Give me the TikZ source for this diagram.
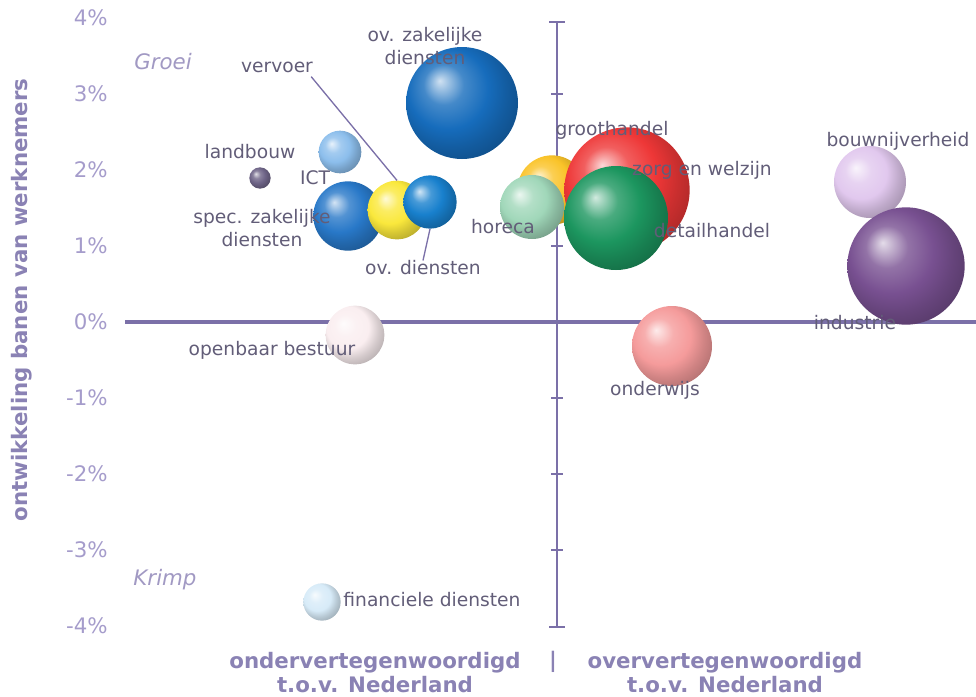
\documentclass[tikz,border=0pt]{standalone}
\usepackage{fontspec}
\setmainfont{DejaVu Sans}
\usetikzlibrary{shadings}

\definecolor{axispurple}{HTML}{7B70A8}
\definecolor{ticklav}{HTML}{A59CCB}
\definecolor{titlelav}{HTML}{8A82B4}
\definecolor{labelgray}{HTML}{625D78}
\colorlet{bcol}{blue}
\pgfdeclareradialshading[bcol]{softball}{\pgfqpoint{-10bp}{10bp}}{%
  color(0bp)=(bcol!20!white); color(9bp)=(bcol!80!white);
  color(18bp)=(bcol); color(25bp)=(bcol!85!black); color(50bp)=(bcol!40!black)}

\begin{document}
\begin{tikzpicture}[x=0.75pt,y=-0.75pt,
    bubble/.style={circle,inner sep=0pt,/utils/exec={\colorlet{bcol}{#1}},shading=softball},
    sector/.style={text=labelgray,font=\fontsize{14}{17}\selectfont,inner sep=0pt,align=center},
    ticklabel/.style={text=ticklav,font=\fontsize{16}{18}\selectfont,anchor=east,inner sep=0pt},
    quadrant/.style={text=ticklav!90!gray,font=\fontsize{16}{18}\selectfont\itshape,inner sep=0pt},
    axisname/.style={text=titlelav,font=\fontsize{16}{18}\selectfont\bfseries,inner sep=0pt,align=center},
    leader/.style={axispurple,line width=1pt}]
    \useasboundingbox (0,0) rectangle (976,697);
    \def\Y{*76}
    % assen
    \draw[axispurple,line width=2.5pt] (125,322)--(976,322);
    \draw[axispurple,line width=2.2pt] (557,22)--(557,627);
    \draw[axispurple,line width=2pt] (549,22)--(565,22) (549,627)--(565,627);
    \foreach \v in {-3,...,3}
      \draw[axispurple,line width=1.5pt] (551,322-\v\Y)--(563,322-\v\Y);
    \foreach \v in {-4,...,4}
      \node[ticklabel] at (108,322-\v\Y) {\v\%};
    \node[axisname,rotate=90] at (22,300) {ontwikkeling banen van werknemers};
    \node[quadrant] at (163,62) {Groei};
    \node[quadrant] at (165,580) {Krimp};
    \node[axisname] at (375,673) {ondervertegenwoordigd\\t.o.v. Nederland};
    \node[axisname] at (553,662) {|};
    \node[axisname] at (725,673) {oververtegenwoordigd\\t.o.v. Nederland};
    % bellen
    \node[bubble={rgb,255:red,22;green,108;blue,188},minimum size=84] (ovzak) at (462,103) {};
    \node[bubble={rgb,255:red,140;green,190;blue,236},minimum size=32] (ict) at (340,152) {};
    \node[bubble={rgb,255:red,110;green,100;blue,135},minimum size=16] (landb) at (260,178) {};
    \node[bubble={rgb,255:red,40;green,120;blue,200},minimum size=52] (speczak) at (348,216) {};
    \node[bubble={rgb,255:red,250;green,232;blue,60},minimum size=44] (vervoer) at (397,210) {};
    \node[bubble={rgb,255:red,24;green,128;blue,205},minimum size=40] (ovdienst) at (430,202) {};
    \node[bubble={rgb,255:red,250;green,195;blue,40},minimum size=52] (groot) at (552,190) {};
    \node[bubble={rgb,255:red,160;green,215;blue,185},minimum size=48] (horeca) at (532,207) {};
    \node[bubble={rgb,255:red,238;green,55;blue,55},minimum size=94] (zorg) at (627,190) {};
    \node[bubble={rgb,255:red,28;green,150;blue,95},minimum size=78] (detail) at (616,218) {};
    \node[bubble={rgb,255:red,225;green,200;blue,238},minimum size=54] (bouw) at (870,182) {};
    \node[bubble={rgb,255:red,120;green,80;blue,145},minimum size=88] (industrie) at (906,266) {};
    \node[bubble={rgb,255:red,245;green,155;blue,155},minimum size=60] (onderwijs) at (672,346) {};
    \node[bubble={rgb,255:red,250;green,238;blue,240},minimum size=44] (openbaar) at (355,335) {};
    \node[bubble={rgb,255:red,215;green,235;blue,248},minimum size=28] (financ) at (322,602) {};
    % namen
    \node[sector] at (425,46) {ov. zakelijke\\diensten};
    \node[sector] (lvervoer) at (277,67) {vervoer};
    \node[sector] at (250,152) {landbouw};
    \node[sector] at (315,178) {ICT};
    \node[sector] at (262,228) {spec. zakelijke\\diensten};
    \node[sector] (lovdienst) at (423,268) {ov. diensten};
    \node[sector] at (612,130) {groothandel};
    \node[sector] at (702,170) {zorg en welzijn};
    \node[sector] at (503,227) {horeca};
    \node[sector] at (712,231) {detailhandel};
    \node[sector] at (898,141) {bouwnijverheid};
    \node[sector] at (855,323) {industrie};
    \node[sector] at (272,350) {openbaar bestuur};
    \node[sector] at (655,390) {onderwijs};
    \node[sector] at (432,600) {financiele diensten};
    \draw[leader] (lvervoer.south east)++(-2,4)--(vervoer.north);
    \draw[leader] (ovdienst.south)--(lovdienst.north);
\end{tikzpicture}
\end{document}
